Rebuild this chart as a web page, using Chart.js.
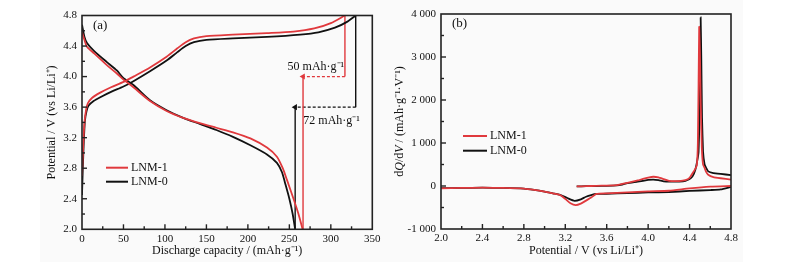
<!DOCTYPE html>
<html><head><meta charset="utf-8">
<script src="https://cdn.jsdelivr.net/npm/chart.js@4/dist/chart.umd.min.js"></script>
<style>
html,body{margin:0;padding:0;background:#fff;}
#bg{position:absolute;left:40px;top:0;width:703px;height:262px;background:#fafafa;}
#ca{position:absolute;left:0;top:0;}
#cb{position:absolute;left:388px;top:0;}
</style></head><body>
<div id="bg"></div>
<canvas id="ca" width="388" height="270"></canvas>
<canvas id="cb" width="405" height="270"></canvas>
<script>
const FONT = "'Liberation Serif','Times New Roman',serif";
const RED = '#e0393d';
const BLACK = '#111111';
const seriesNames = ['LNM-1', 'LNM-0'];

// ---- Panel (a): capacity (mAh/g) vs potential (V)
const chargeCap1 = [0,1.5,3,5,7,12,22,35,50,62,82,102,115,125,135,150,182,223,255,280,300,317];
const chargeV1   = [2.7,3.1,3.4,3.57,3.65,3.72,3.79,3.86,3.93,4.0,4.12,4.26,4.37,4.45,4.5,4.53,4.55,4.57,4.59,4.63,4.7,4.8];
const chargeCap0 = [0,1,2,3.5,5.5,8,14,22,35,50,62,82,102,115,125,135,150,182,223,263,285,305,320,330];
const chargeV0   = [2.45,2.8,3.1,3.42,3.55,3.62,3.68,3.73,3.8,3.87,3.94,4.07,4.21,4.32,4.4,4.45,4.48,4.5,4.52,4.55,4.58,4.64,4.72,4.8];
const dischCap1  = [0,3,6,15,30,42,50,62,82,102,122,142,162,182,203,223,235,242,247,255,261,266];
const dischV1    = [4.58,4.48,4.39,4.3,4.15,4.04,3.96,3.86,3.68,3.55,3.46,3.39,3.33,3.27,3.19,3.07,2.95,2.8,2.65,2.4,2.2,2.0];
const dischCap0  = [0,3,6,15,30,42,50,62,82,102,122,142,162,182,203,223,235,241,245,250,254,257];
const dischV0    = [4.68,4.52,4.44,4.33,4.19,4.08,3.98,3.89,3.69,3.56,3.46,3.38,3.3,3.21,3.1,2.98,2.87,2.75,2.6,2.4,2.2,2.0];
// annotation: capacity difference markers
const annRedCap = [317, 266.5];  const annRedV = 4.0;
const annBlkCap = [330, 257];    const annBlkV = 3.6;
const annLabels = ['50 mAh·g⁻¹', '72 mAh·g⁻¹'];
const annLabelCap = [282, 301];
const annLabelV = [4.13, 3.42];

// ---- Panel (b): potential (V) vs dQ/dV
const dqChgV1 = [3.31,3.4,3.5,3.6,3.7,3.8,3.9,3.95,4.0,4.05,4.1,4.15,4.2,4.3,4.36,4.4,4.43,4.455,4.47,4.48,4.487,4.493,4.5,4.508,4.518,4.53,4.545,4.56,4.58,4.63,4.7,4.8];
const dqChgQ1 = [-10,-5,5,10,20,75,130,165,195,215,200,160,120,115,135,190,300,400,480,1000,2400,3700,3100,1900,900,500,420,330,260,205,180,150];
const dqChgV0 = [3.31,3.4,3.5,3.6,3.7,3.75,3.8,3.9,4.0,4.05,4.1,4.15,4.2,4.3,4.36,4.4,4.43,4.455,4.475,4.487,4.495,4.502,4.507,4.513,4.52,4.53,4.545,4.56,4.58,4.63,4.7,4.8];
const dqChgQ0 = [-10,-5,0,5,15,35,65,100,140,150,135,110,100,105,120,160,230,370,600,800,1500,3000,3920,3000,1600,800,500,420,340,300,280,255];
const dqDisV1 = [4.8,4.6,4.4,4.2,4.0,3.8,3.6,3.5,3.45,3.4,3.35,3.3,3.25,3.2,3.15,3.08,3.0,2.9,2.8,2.6,2.4,2.2,2.0];
const dqDisQ1 = [0,-15,-55,-110,-125,-150,-170,-185,-270,-340,-410,-445,-400,-300,-210,-170,-130,-90,-60,-45,-40,-45,-55];
const dqDisV0 = [4.8,4.7,4.6,4.4,4.2,4.0,3.8,3.6,3.5,3.45,3.4,3.35,3.29,3.22,3.15,3.08,3.0,2.9,2.8,2.6,2.4,2.2,2.0];
const dqDisQ0 = [-20,-80,-95,-115,-140,-150,-165,-180,-185,-210,-250,-310,-345,-280,-205,-170,-130,-90,-60,-45,-40,-45,-50];

const pts = (xs, ys) => xs.map((x, i) => ({x, y: ys[i]}));
const curve = (data, color, tension) => ({data, borderColor: color, backgroundColor: color, borderWidth: 1.8, pointRadius: 0, showLine: true, tension, fill: false});

// frame + inward ticks
const frameTicks = {
  id: 'frameTicks',
  afterDraw(chart, args, o) {
    const {ctx, chartArea: a, scales} = chart;
    ctx.save();
    ctx.strokeStyle = '#222';
    ctx.lineWidth = 1.4;
    const doAxis = (scale, minor, major, horiz) => {
      const n = Math.round((scale.max - scale.min) / minor);
      for (let i = 1; i < n; i++) {
        const v = scale.min + i * minor;
        const isMajor = Math.abs(v / major - Math.round(v / major)) < 1e-6;
        const len = isMajor ? 5 : 3;
        const p = scale.getPixelForValue(v);
        ctx.beginPath();
        if (horiz) { ctx.moveTo(p, a.bottom); ctx.lineTo(p, a.bottom - len); }
        else { ctx.moveTo(a.left, p); ctx.lineTo(a.left + len, p); }
        ctx.stroke();
      }
    };
    doAxis(scales.x, o.xMinor, o.xMajor, true);
    doAxis(scales.y, o.yMinor, o.yMajor, false);
    ctx.lineWidth = 1.6;
    ctx.strokeRect(a.left, a.top, a.right - a.left, a.bottom - a.top);
    ctx.restore();
  }
};

// panel label, legend and text annotations
const decor = {
  id: 'decor',
  afterDraw(chart, args, o) {
    const {ctx, chartArea: a, scales} = chart;
    ctx.save();
    ctx.fillStyle = '#111';
    ctx.textBaseline = 'middle';
    ctx.textAlign = 'left';
    ctx.font = '13px ' + FONT;
    ctx.fillText(o.panel, a.left + 11, a.top + 10);
    ctx.font = '12px ' + FONT;
    o.legend.forEach((it, i) => {
      const y = o.legY + i * o.legGap;
      ctx.strokeStyle = it.color; ctx.lineWidth = 2;
      ctx.beginPath(); ctx.moveTo(a.left + o.legX, y); ctx.lineTo(a.left + o.legX + o.legLen, y); ctx.stroke();
      ctx.fillText(it.text, a.left + o.legX + o.legLen + 3, y);
    });
    ctx.textAlign = 'center';
    (o.labels || []).forEach(l => {
      ctx.fillText(l.text, scales.x.getPixelForValue(l.x), scales.y.getPixelForValue(l.y));
    });
    ctx.restore();
  }
};

// rotated y-title with italic parts
const richYTitle = {
  id: 'richYTitle',
  afterDraw(chart, args, o) {
    if (!o.parts) return;
    const {ctx, chartArea: a} = chart;
    ctx.save();
    const fnt = it => (it ? 'italic ' : '') + '12px ' + FONT;
    let total = 0;
    o.parts.forEach(p => { ctx.font = fnt(p[1]); total += ctx.measureText(p[0]).width; });
    ctx.translate(o.x, (a.top + a.bottom) / 2);
    ctx.rotate(-Math.PI / 2);
    ctx.fillStyle = '#111';
    ctx.textBaseline = 'middle';
    ctx.textAlign = 'left';
    let x = -total / 2;
    o.parts.forEach(p => { ctx.font = fnt(p[1]); ctx.fillText(p[0], x, 0); x += ctx.measureText(p[0]).width; });
    ctx.restore();
  }
};

const tickFont = {family: FONT, size: 11};
const titleFont = {family: FONT, size: 12};

// ---- Chart (a)
const arrowDs = (data, color) => ({data, borderColor: color, backgroundColor: color, borderWidth: 1.4, borderDash: [3, 2], showLine: true,
  pointRadius: [0, 3.5], pointStyle: 'triangle', rotation: -90, pointBorderWidth: 0});
const lineDs = (data, color) => ({data, borderColor: color, borderWidth: 1.4, showLine: true, pointRadius: 0});

new Chart(document.getElementById('ca'), {
  type: 'scatter',
  data: {datasets: [
    curve(pts(chargeCap1, chargeV1), RED, 0.25),
    curve(pts(dischCap1, dischV1), RED, 0.25),
    curve(pts(chargeCap0, chargeV0), BLACK, 0.25),
    curve(pts(dischCap0, dischV0), BLACK, 0.25),
    lineDs([{x: annRedCap[0], y: 4.8}, {x: annRedCap[0], y: annRedV}], RED),
    arrowDs([{x: annRedCap[0], y: annRedV}, {x: annRedCap[1], y: annRedV}], RED),
    lineDs([{x: annRedCap[1], y: annRedV}, {x: annRedCap[1], y: 2.0}], RED),
    lineDs([{x: annBlkCap[0], y: 4.8}, {x: annBlkCap[0], y: annBlkV}], BLACK),
    arrowDs([{x: annBlkCap[0], y: annBlkV}, {x: annBlkCap[1], y: annBlkV}], BLACK),
    lineDs([{x: annBlkCap[1], y: annBlkV}, {x: annBlkCap[1], y: 2.0}], BLACK),
  ]},
  options: {
    responsive: false, animation: false, devicePixelRatio: 1,
    layout: {padding: {top: 15.5, right: 15.7, left: 0, bottom: 0}},
    plugins: {legend: {display: false}, tooltip: {enabled: false},
      frameTicks: {xMinor: 25, xMajor: 50, yMinor: 0.2, yMajor: 0.4},
      decor: {panel: '(a)', legX: 24, legLen: 22, legY: 167.7, legGap: 14,
        legend: [{text: seriesNames[0], color: RED}, {text: seriesNames[1], color: BLACK}],
        labels: annLabels.map((t, i) => ({text: t, x: annLabelCap[i], y: annLabelV[i]}))},
      richYTitle: {}},
    scales: {
      x: {type: 'linear', min: 0, max: 350,
        ticks: {stepSize: 50, font: tickFont, color: '#111', padding: 3, maxRotation: 0},
        grid: {display: false, drawTicks: false}, border: {display: false},
        title: {display: true, text: 'Discharge capacity / (mAh·g⁻¹)', font: titleFont, color: '#111', padding: {top: 0, bottom: 12}},
        afterFit(s) { s.height = 40.7; }},
      y: {type: 'linear', min: 2, max: 4.8,
        ticks: {stepSize: 0.4, font: tickFont, color: '#111', padding: 5, callback: v => v.toFixed(1)},
        grid: {display: false, drawTicks: false}, border: {display: false},
        title: {display: true, text: 'Potential / V (vs Li/Li⁺)', font: titleFont, color: '#111', padding: {top: 44.5, bottom: 0}},
        afterFit(s) { s.width = 82; }}
    }
  },
  plugins: [frameTicks, decor, richYTitle]
});

// ---- Chart (b)
const fmtK = v => {
  if (v === 0) return '0';
  const s = v < 0 ? '-' : '';
  const a = Math.abs(v);
  return s + Math.floor(a / 1000) + ' ' + String(a % 1000).padStart(3, '0');
};

new Chart(document.getElementById('cb'), {
  type: 'scatter',
  data: {datasets: [
    curve(pts(dqDisV1, dqDisQ1), RED, 0.2),
    curve(pts(dqDisV0, dqDisQ0), BLACK, 0.2),
    curve(pts(dqChgV1, dqChgQ1), RED, 0.1),
    curve(pts(dqChgV0, dqChgQ0), BLACK, 0.1),
  ]},
  options: {
    responsive: false, animation: false, devicePixelRatio: 1,
    layout: {padding: {top: 14, right: 62, left: 0, bottom: 0}},
    plugins: {legend: {display: false}, tooltip: {enabled: false},
      frameTicks: {xMinor: 0.2, xMajor: 0.4, yMinor: 500, yMajor: 1000},
      decor: {panel: '(b)', legX: 22, legLen: 24, legY: 136, legGap: 14.7,
        legend: [{text: seriesNames[0], color: RED}, {text: seriesNames[1], color: BLACK}], labels: []},
      richYTitle: {x: 11.5, parts: [['d', false], ['Q', true], ['/d', false], ['V', true], [' / (mAh·g⁻¹·V⁻¹)', false]]}},
    scales: {
      x: {type: 'linear', min: 2, max: 4.8,
        ticks: {stepSize: 0.4, font: tickFont, color: '#111', padding: 3, maxRotation: 0, callback: v => v.toFixed(1)},
        grid: {display: false, drawTicks: false}, border: {display: false},
        title: {display: true, text: 'Potential / V (vs Li/Li⁺)', font: titleFont, color: '#111', padding: {top: 0, bottom: 12}},
        afterFit(s) { s.height = 41; }},
      y: {type: 'linear', min: -1000, max: 4000,
        ticks: {stepSize: 1000, font: tickFont, color: '#111', padding: 5, callback: fmtK},
        grid: {display: false, drawTicks: false}, border: {display: false},
        afterFit(s) { s.width = 53; }}
    }
  },
  plugins: [frameTicks, decor, richYTitle]
});
</script>
</body></html>
